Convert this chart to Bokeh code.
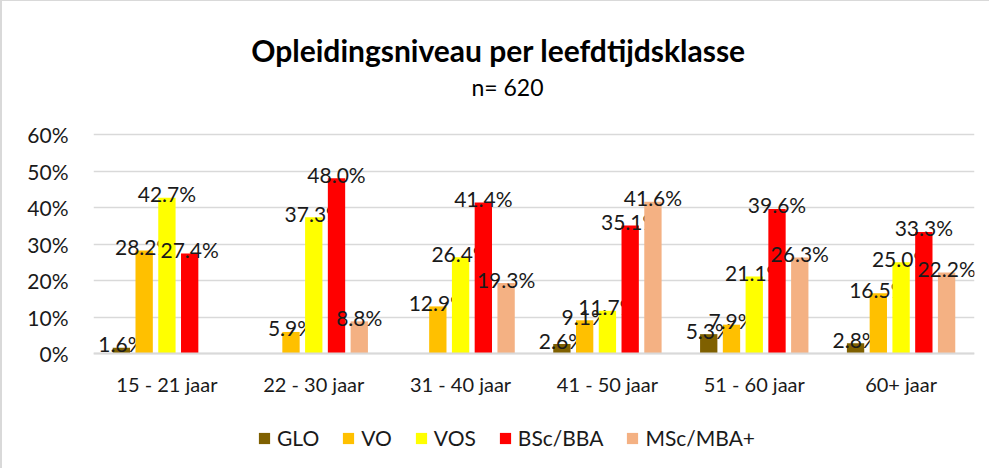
from bokeh.plotting import figure
from bokeh.models import (ColumnDataSource, FactorRange, Range1d, Legend, LegendItem, Label,
                          PrintfTickFormatter, FixedTicker)
from bokeh.transform import dodge
from bokeh.core.properties import value
from bokeh.embed import file_html
from bokeh.resources import INLINE

categories = ["15 - 21 jaar", "22 - 30 jaar", "31 - 40 jaar", "41 - 50 jaar", "51 - 60 jaar", "60+ jaar"]
series_names = ["GLO", "VO", "VOS", "BSc/BBA", "MSc/MBA+"]
glo = [1.6, 0.0, 0.0, 2.6, 5.3, 2.8]
vo = [28.2, 5.9, 12.9, 9.1, 7.9, 16.5]
vos = [42.7, 37.3, 26.4, 11.7, 21.1, 25.0]
bsc = [27.4, 48.0, 41.4, 35.1, 39.6, 33.3]
msc = [0.0, 8.8, 19.3, 41.6, 26.3, 22.2]
y_ticks = [0, 10, 20, 30, 40, 50, 60]

colors = ["#7F6000", "#FFC000", "#FFFF00", "#FF0000", "#F4B183"]
offsets = [-0.31, -0.155, 0.0, 0.155, 0.31]
FONT = "Lato"

# layout (pixels): frame spans the full figure height so titles/legend are inside it
W, H = 989, 468
FRAME_LEFT, FRAME_RIGHT = 91, 972
ZERO_PX, SIXTY_PX = 352, 133
px_per_unit = (ZERO_PX - SIXTY_PX) / 60.0
y_top = ZERO_PX / px_per_unit
y_bot = -(H - ZERO_PX) / px_per_unit

p = figure(x_range=FactorRange(*categories, range_padding=0), y_range=Range1d(y_bot, y_top),
           width=W, height=H, output_backend="svg", toolbar_location=None,
           min_border_left=FRAME_LEFT, min_border_right=W - FRAME_RIGHT,
           min_border_top=0, min_border_bottom=0,
           styles={"border-left": "2px solid #d9d9d9", "border-top": "1px solid #d9d9d9"})
p.title = None
p.outline_line_color = None
p.xgrid.grid_line_color = None
p.ygrid.grid_line_color = "#d9d9d9"
p.ygrid.grid_line_width = 1.5

data = {"cat": categories, "GLO": glo, "VO": vo, "VOS": vos, "BSc/BBA": bsc, "MSc/MBA+": msc}
for name in series_names:
    data[name + "_lbl"] = [f"{v:.1f}%" if v > 0 else "" for v in data[name]]
src = ColumnDataSource(data)

items = []
for name, col, off in zip(series_names, colors, offsets):
    r = p.vbar(x=dodge("cat", off, range=p.x_range), top=name, width=0.118, source=src,
               fill_color=col, line_color=None)
    p.text(x=dodge("cat", off, range=p.x_range), y=name, text=name + "_lbl", source=src,
           text_align="center", text_baseline="alphabetic", y_offset=-4,
           text_font=value(FONT), text_font_size="21px", text_color="#1a1a1a")
    items.append(LegendItem(label=name, renderers=[r]))

p.yaxis.ticker = FixedTicker(ticks=y_ticks)
p.ygrid.ticker = FixedTicker(ticks=y_ticks)
p.yaxis.formatter = PrintfTickFormatter(format="%d%%")
p.yaxis.axis_line_color = None
p.yaxis.major_tick_line_color = None
p.yaxis.minor_tick_line_color = None
p.yaxis.major_label_text_font = FONT
p.yaxis.major_label_text_font_size = "21px"
p.yaxis.major_label_text_color = "#1a1a1a"
p.yaxis.major_label_standoff = 19

p.xaxis.fixed_location = 0
p.xaxis.axis_line_color = "#d9d9d9"
p.xaxis.axis_line_width = 2
p.xaxis.major_tick_line_color = None
p.xaxis.minor_tick_line_color = None
p.xaxis.major_label_text_font = FONT
p.xaxis.major_label_text_font_size = "20px"
p.xaxis.major_label_text_color = "#1a1a1a"
p.xaxis.major_label_standoff = 12

# screen units are measured from the frame's bottom-left corner
p.add_layout(Label(x=496 - FRAME_LEFT, y=H - 48, x_units="screen", y_units="screen",
                   text="Opleidingsniveau per leefdtijdsklasse", text_align="center",
                   text_baseline="middle", text_font=FONT, text_font_size="30px",
                   text_font_style="bold", text_color="#000000"))
p.add_layout(Label(x=505 - FRAME_LEFT, y=H - 85, x_units="screen", y_units="screen",
                   text="n= 620", text_align="center", text_baseline="middle",
                   text_font=FONT, text_font_size="23px", text_color="#000000"))

legend = Legend(items=items, orientation="horizontal", location=(255 - FRAME_LEFT, H - 449),
                border_line_color=None, background_fill_alpha=0, padding=0, margin=0,
                glyph_width=14, glyph_height=14, label_standoff=6, spacing=22,
                label_text_font=FONT, label_text_font_size="21px", label_text_color="#1a1a1a")
p.add_layout(legend, "center")

open("out.html", "w").write(file_html(p, INLINE))
